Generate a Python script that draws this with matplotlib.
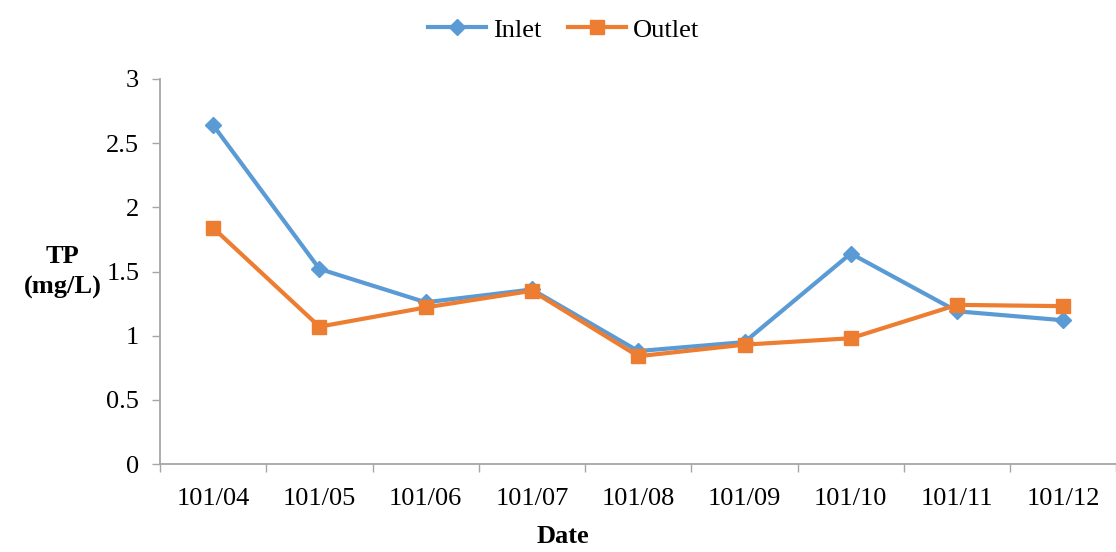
import matplotlib
matplotlib.use("Agg")
import matplotlib.pyplot as plt
import numpy as np

plt.rcParams['font.family'] = ['Liberation Serif', 'DejaVu Serif']

dates = ["101/04", "101/05", "101/06", "101/07", "101/08",
         "101/09", "101/10", "101/11", "101/12"]
inlet = [2.64, 1.52, 1.26, 1.36, 0.88, 0.95, 1.64, 1.19, 1.12]
outlet = [1.84, 1.07, 1.22, 1.35, 0.84, 0.93, 0.98, 1.24, 1.23]

fig = plt.figure(figsize=(11.16, 5.52), dpi=100)
ax = fig.add_axes([0.1434, 0.1594, 0.857, 0.6975])

x = np.arange(len(dates))
ax.plot(x, inlet, color="#5B9BD5", lw=3, marker="D", ms=8, label="Inlet")
ax.plot(x, outlet, color="#ED7D31", lw=3, marker="s", ms=10, label="Outlet")

ax.set_xlim(-0.5, len(dates) - 0.5)
ax.set_ylim(0, 3)
ax.set_yticks([0, 0.5, 1, 1.5, 2, 2.5, 3])
ax.set_yticklabels(["0", "0.5", "1", "1.5", "2", "2.5", "3"])
ax.set_xticks(x)
ax.set_xticklabels(dates)
ax.set_xticks(np.arange(-0.5, len(dates)), minor=True)

ax.tick_params(axis="x", which="major", length=0, pad=17, labelsize=19)
ax.tick_params(axis="x", which="minor", length=6, color="#a6a6a6", width=1)
ax.tick_params(axis="y", length=6, color="#a6a6a6", width=1, pad=9, labelsize=19)

for side in ["top", "right"]:
    ax.spines[side].set_visible(False)
for side in ["left", "bottom"]:
    ax.spines[side].set_color("#a6a6a6")
    ax.spines[side].set_linewidth(1.3)

fig.text(0.056, 0.507, "TP\n(mg/L)", ha="center", va="center",
         fontsize=19, fontweight="bold", linespacing=1.45)
fig.text(0.504, 0.008, "Date", ha="center", va="bottom",
         fontsize=19, fontweight="bold")

fig.legend(loc="upper center", bbox_to_anchor=(0.505, 1.01), ncol=2,
           frameon=False, fontsize=19, handlelength=2.2, columnspacing=1.0,
           handletextpad=0.25)

fig.savefig("out.png", dpi=100)
